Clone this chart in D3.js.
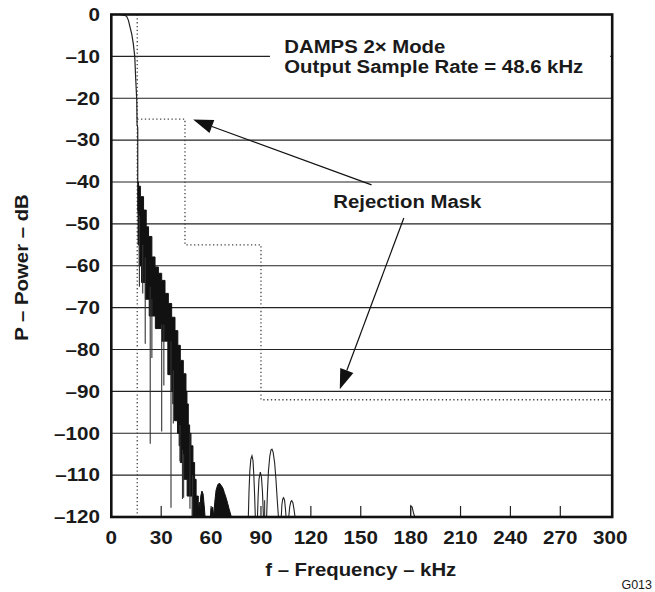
<!DOCTYPE html>
<html>
<head>
<meta charset="utf-8">
<script src="https://cdn.jsdelivr.net/npm/d3@7"></script>
<style>
  html, body { margin: 0; padding: 0; background: #fff; }
  svg { display: block; }
  text { font-family: "Liberation Sans", Arial, Helvetica, sans-serif; fill: #1a1a1a; }
</style>
</head>
<body>
<svg id="chart" width="655" height="592"></svg>
<script>
// ---------------- data ----------------
const freqTicks = [0, 30, 60, 90, 120, 150, 180, 210, 240, 270, 300];   // kHz
const dbTicks = [0, -10, -20, -30, -40, -50, -60, -70, -80, -90, -100, -110, -120]; // dB
const tickLabelsY = ["0", "–10", "–20", "–30", "–40", "–50", "–60", "–70", "–80", "–90", "–100", "–110", "–120"];

// passband roll-off [kHz, dB]
const passband = [[0, 0], [5, 0], [8, -0.2], [9.3, -0.5], [10.3, -1.4], [11.2, -2.9], [12.3, -4.7],
  [13.2, -6.9], [14.1, -10], [14.7, -15.6], [15.3, -20.4], [15.5, -26.3], [15.9, -27], [15.9, -40]];

// dense stop-band spectrum: upper and lower envelope [kHz, dB]
const bandTop = [[15.9, -40], [16.4, -41], [17.5, -43.5], [19.4, -46.7], [21.0, -50.7], [22.4, -53],
  [24.4, -57.9], [26.3, -60.3], [28.3, -61.8], [30.3, -63.5], [32.3, -66.6], [34.3, -69], [36.3, -72.3],
  [38.3, -75.5], [40.0, -79], [41.5, -82.6], [43.3, -85.8], [44.9, -90], [45.5, -93], [46.3, -98],
  [47.1, -100], [47.9, -103], [49.1, -107], [50.1, -111], [51.0, -115], [52.3, -120]];
const bandBottom = [[15.9, -40], [16.1, -47], [16.8, -55], [18.2, -60], [20.5, -64], [22.8, -68],
  [26.5, -72], [30.5, -75], [34.0, -78], [36.0, -86], [37.0, -90], [38.0, -93], [39.8, -97], [40.8, -100],
  [41.5, -103], [42.8, -107], [45.6, -111], [48.6, -115], [49.8, -120]];

// deep notches of the stop-band spectrum [kHz, dB from, dB to]
const spikes = [[16.9, -48, -65], [18.9, -55, -66.6], [20.4, -58, -78.6], [23.4, -65, -102.5],
  [24.4, -68, -82], [30.3, -74, -99.6], [31.6, -74, -88.6], [35.9, -78, -117.8], [37.3, -85, -97.7],
  [41.3, -98, -106.6], [42.8, -104, -115.7], [43.5, -105, -115.4], [47.3, -100, -118], [48.9, -110, -120],
  [92.2, -116, -120]];

// filled side lobes [kHz, dB]
const lobeA = [[52.3, -120], [52.6, -117], [53.0, -116.5], [53.4, -118], [53.8, -115], [54.5, -113.8],
  [55.2, -114.5], [55.8, -117], [56.4, -120]];
const lobeB = [[59.6, -120], [60.0, -118], [61.0, -117.6], [61.6, -120], [62.2, -116.5], [63.0, -113.6],
  [64.0, -112.3], [65.0, -111.9], [66.0, -112.4], [67.1, -113.1], [68.0, -114.2], [69.1, -115.5],
  [70.0, -116.8], [70.8, -118], [72.2, -120]];
// outlined side lobes [kHz, dB]
const lobeC = [[82.4, -120], [82.8, -114], [83.3, -109], [83.9, -106.2], [84.6, -105.4], [85.2, -106.5],
  [85.7, -110], [86.2, -115], [86.6, -120]];
const lobeD = [[87.9, -120], [88.3, -115], [88.8, -111], [89.6, -109.3], [90.3, -110.5], [90.9, -114], [91.5, -120]];
const lobeE = [[93.4, -120], [93.9, -114], [94.5, -109], [95.3, -105.5], [96.0, -104], [96.6, -103.8],
  [97.3, -104.5], [98.2, -107], [99.0, -111], [99.8, -116], [100.5, -120]];
const lobeF = [[102.2, -120], [102.6, -117], [103.1, -115.7], [103.6, -115.4], [104.2, -116], [104.7, -118], [105.1, -120]];
const lobeG = [[106.7, -120], [107.3, -117.5], [108.0, -116.3], [108.5, -116.1], [109.2, -116.6], [109.8, -118], [110.5, -120]];
const lobeH = [[180.0, -120], [180.1, -117.3], [180.9, -117.6], [181.7, -119], [182.5, -120]];

// rejection mask [kHz, dB]
const maskEdge = [[15.6, 0], [15.6, -120]];
const maskSteps = [[15.6, -25], [44.3, -25], [44.3, -55], [90.0, -55], [90.0, -92], [300, -92]];

// annotations
const titleLines = ["DAMPS 2× Mode", "Output Sample Rate = 48.6 kHz"];
const maskLabel = "Rejection Mask";
const arrows = [ { from: [156.5, -40.7], to: [49.2, -25.1] },
                 { from: [175.9, -48.6], to: [137.4, -89.5] } ];
const xTitle = "f – Frequency – kHz";
const yTitle = "P – Power – dB";
const figId = "G013";

// ---------------- drawing ----------------
const svg = d3.select("#chart");
const x = d3.scaleLinear().domain([0, 300]).range([111.3, 610.2]);
const y = d3.scaleLinear().domain([0, -120]).range([14.5, 517]);

function stext(px, py, str, o) {
  const g = svg.append("g")
    .attr("transform", `translate(${px},${py})` + (o.rot ? ` rotate(${o.rot})` : "") + ` scale(${o.sx || 1},1)`);
  return g.append("text")
    .attr("text-anchor", o.anchor || "start")
    .attr("font-size", o.size)
    .attr("font-weight", o.weight || "bold")
    .text(str);
}

// horizontal grid lines
svg.append("g").selectAll("line").data(dbTicks.slice(1, -1)).join("line")
  .attr("x1", x(0)).attr("x2", x(300) + 2)
  .attr("y1", d => y(d)).attr("y2", d => y(d))
  .attr("stroke", "#222").attr("stroke-width", 1.2);

// x ticks (inside, bottom)
svg.append("g").selectAll("line").data(freqTicks.slice(1, -1)).join("line")
  .attr("x1", d => x(d)).attr("x2", d => x(d))
  .attr("y1", y(-120)).attr("y2", y(-120) - 11)
  .attr("stroke", "#222").attr("stroke-width", 1.2);

// white box behind the title text
svg.append("rect").attr("x", 270).attr("y", 30).attr("width", x(300) - 270).attr("height", 52).attr("fill", "#fff");

// mask (dotted)
const line = d3.line().x(d => x(d[0])).y(d => y(d[1]));
svg.append("path").attr("d", line(maskEdge)).attr("fill", "none")
  .attr("stroke", "#444").attr("stroke-width", 1.3).attr("stroke-dasharray", "1.3,2.5");
svg.append("path").attr("d", line(maskSteps)).attr("fill", "none")
  .attr("stroke", "#444").attr("stroke-width", 1.3).attr("stroke-dasharray", "1.3,2.5");

// passband curve
svg.append("path").attr("d", line(passband)).attr("fill", "none")
  .attr("stroke", "#222").attr("stroke-width", 1.2);

// dense stop band (stair-stepped like the FFT bins)
const stepLine = d3.line().x(d => x(d[0])).y(d => y(d[1])).curve(d3.curveStepAfter);
const bandPoly = bandTop.concat(bandBottom.slice().reverse());
svg.append("path").attr("d", stepLine(bandPoly) + "Z").attr("fill", "#111").attr("stroke", "#111").attr("stroke-width", 1);

// notches
svg.append("g").selectAll("line").data(spikes).join("line")
  .attr("x1", d => x(d[0])).attr("x2", d => x(d[0]))
  .attr("y1", d => y(d[1])).attr("y2", d => y(d[2]))
  .attr("stroke", "#333").attr("stroke-width", 1.1);

// side lobes
[lobeA, lobeB].forEach(l => svg.append("path").attr("d", line(l) + "Z")
  .attr("fill", "#111").attr("stroke", "#111").attr("stroke-width", 1));
[lobeC, lobeD, lobeE, lobeF, lobeG, lobeH].forEach(l => svg.append("path").attr("d", line(l))
  .attr("fill", "none").attr("stroke", "#222").attr("stroke-width", 1.1));

// frame
svg.append("rect").attr("x", x(0)).attr("y", y(0)).attr("width", x(300) + 2 - x(0)).attr("height", y(-120) - y(0))
  .attr("fill", "none").attr("stroke", "#111").attr("stroke-width", 2.6);

// arrows
arrows.forEach(a => {
  const x1 = x(a.from[0]), y1 = y(a.from[1]), x2 = x(a.to[0]), y2 = y(a.to[1]);
  const ang = Math.atan2(y2 - y1, x2 - x1), L = 20, W = 7;
  const bx = x2 - L * Math.cos(ang), by = y2 - L * Math.sin(ang);
  svg.append("line").attr("x1", x1).attr("y1", y1).attr("x2", bx).attr("y2", by)
    .attr("stroke", "#111").attr("stroke-width", 1.2);
  const p = [[x2, y2], [bx + W * Math.sin(ang), by - W * Math.cos(ang)], [bx - W * Math.sin(ang), by + W * Math.cos(ang)]];
  svg.append("path").attr("d", "M" + p.map(q => q.join(",")).join("L") + "Z").attr("fill", "#111");
});

// tick labels
dbTicks.forEach((d, i) => stext(100, y(d) + 6.3, tickLabelsY[i], { size: 17.5, sx: 1.18, anchor: "end" }));
freqTicks.forEach(d => stext(x(d), 544, String(d), { size: 17.5, sx: 1.18, anchor: "middle" }));

// titles
stext((x(0) + x(300)) / 2, 576, xTitle, { size: 18.5, sx: 1.1, anchor: "middle" });
stext(27.5, 267.5, yTitle, { size: 18.5, sx: 1.1, anchor: "middle", rot: -90 });
stext(284.3, 53.3, titleLines[0], { size: 18.5, sx: 1.1 });
stext(284.3, 73.3, titleLines[1], { size: 18.5, sx: 1.1 });
stext(333.3, 208.3, maskLabel, { size: 18.5, sx: 1.1 });
stext(652, 588.5, figId, { size: 12.5, weight: "normal", anchor: "end" });
</script>
</body>
</html>
